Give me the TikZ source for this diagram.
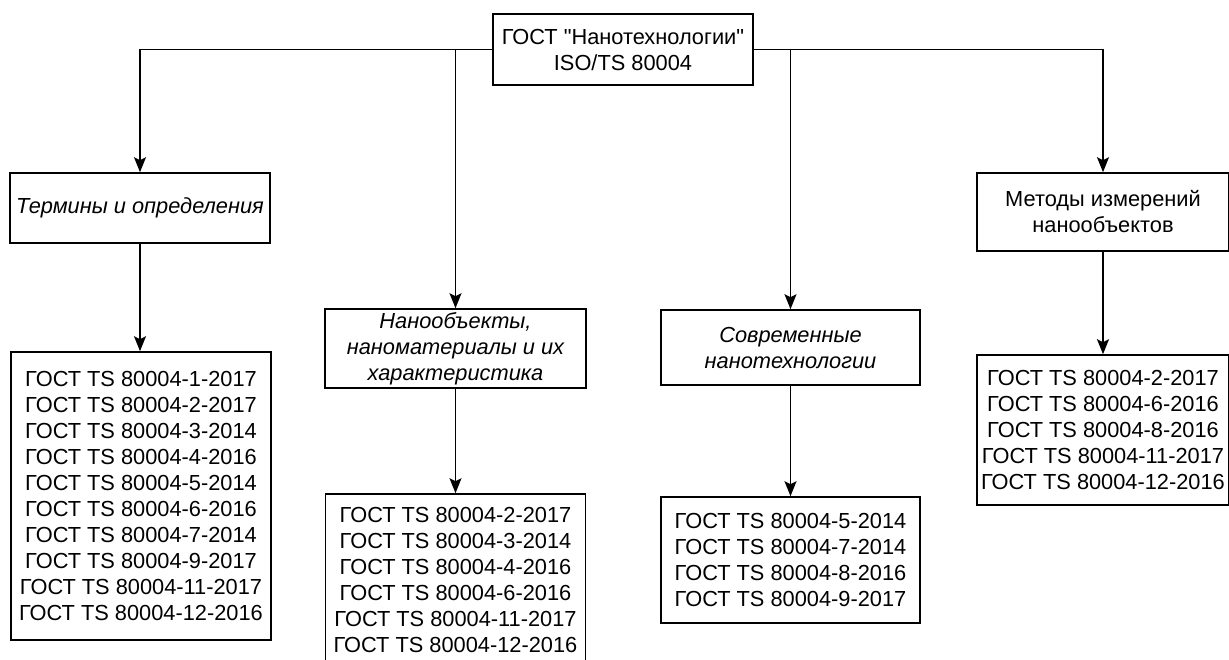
\documentclass[tikz,border=0pt]{standalone}
\usepackage{fontspec}
\setmainfont{Liberation Sans}[Ligatures=TeXOff]
\usetikzlibrary{arrows.meta}
\begin{document}
\begin{tikzpicture}[x=1pt,y=-1pt,
  box/.style={draw=black, line width=1.6pt, fill=white, inner sep=0pt, align=center,
    font=\fontsize{21.8}{26}\selectfont, text=black},
  arr/.style={draw=black, line width=1.6pt, -{Stealth[length=15pt,width=12pt,inset=3pt]}},
  ln/.style={draw=black, line width=1.6pt}]
\useasboundingbox (0,0) rectangle (1229,660);
\node[box, minimum width=260pt, minimum height=71pt] (top) at (623,49.5)
  {ГОСТ "Нанотехнологии"\\ISO/TS 80004};
\node[box, minimum width=260pt, minimum height=70pt, font=\fontsize{21.8}{26}\selectfont\itshape] (t1) at (140,208)
  {Термины и определения};
\node[box, minimum width=261pt, minimum height=79pt, font=\fontsize{21.8}{26}\selectfont\itshape] (t2) at (455.5,348.5)
  {Нанообъекты,\\наноматериалы и их\\характеристика};
\node[box, minimum width=259pt, minimum height=75pt, font=\fontsize{21.8}{26}\selectfont\itshape] (t3) at (790.5,347.5)
  {Современные\\нанотехнологии};
\node[box, minimum width=252pt, minimum height=78pt] (t4) at (1103,212)
  {Методы измерений\\нанообъектов};
\node[box, minimum width=260pt, minimum height=288pt] (l1) at (141,496)
  {ГОСТ TS 80004-1-2017\\ГОСТ TS 80004-2-2017\\ГОСТ TS 80004-3-2014\\ГОСТ TS 80004-4-2016\\ГОСТ TS 80004-5-2014\\ГОСТ TS 80004-6-2016\\ГОСТ TS 80004-7-2014\\ГОСТ TS 80004-9-2017\\ГОСТ TS 80004-11-2017\\ГОСТ TS 80004-12-2016};
\node[box, minimum width=260pt, minimum height=172pt] (l2) at (455.5,580)
  {ГОСТ TS 80004-2-2017\\ГОСТ TS 80004-3-2014\\ГОСТ TS 80004-4-2016\\ГОСТ TS 80004-6-2016\\ГОСТ TS 80004-11-2017\\ГОСТ TS 80004-12-2016};
\node[box, minimum width=259pt, minimum height=126pt] (l3) at (790.5,560)
  {ГОСТ TS 80004-5-2014\\ГОСТ TS 80004-7-2014\\ГОСТ TS 80004-8-2016\\ГОСТ TS 80004-9-2017};
\node[box, minimum width=252pt, minimum height=150pt] (l4) at (1103,430)
  {ГОСТ TS 80004-2-2017\\ГОСТ TS 80004-6-2016\\ГОСТ TS 80004-8-2016\\ГОСТ TS 80004-11-2017\\ГОСТ TS 80004-12-2016};
\draw[arr] (top.west) -| (t1.north);
\draw[arr] (top.east) -| (t4.north);
\draw[arr] (t2.north |- top.west) -- (t2.north);
\draw[arr] (t3.north |- top.east) -- (t3.north);
\draw[arr] (t1.south) -- (t1.south |- l1.north);
\draw[arr] (t2.south) -- (t2.south |- l2.north);
\draw[arr] (t3.south) -- (t3.south |- l3.north);
\draw[arr] (t4.south) -- (t4.south |- l4.north);
\end{tikzpicture}
\end{document}
